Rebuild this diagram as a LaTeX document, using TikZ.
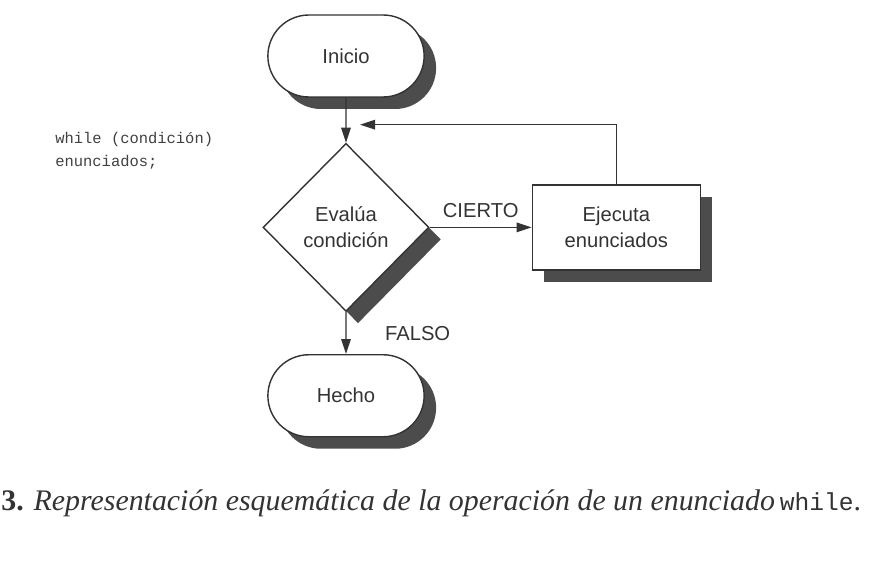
\documentclass[tikz,border=0pt]{standalone}
\usepackage{fontspec}
\setmainfont{Liberation Serif}
\setsansfont{Liberation Sans}
\setmonofont{Liberation Mono}
\usepackage{tikz}
\usetikzlibrary{calc}
\usetikzlibrary{shapes.geometric}
\usetikzlibrary{shapes.misc}
\usetikzlibrary{shadows}
\usetikzlibrary{arrows.meta, positioning}

\tikzset{
	box/.style = {draw=black!80, line width=0.8pt, fill=white, text=black!80,
		font=\sffamily\fontsize{11.5}{15}\selectfont, align=center,
		drop shadow={shadow xshift=0.24cm, shadow yshift=-0.24cm, opacity=1, fill=black!70}},
	terminal/.style = {box, rounded rectangle, minimum width=3.36cm, minimum height=1.64cm},
	decision/.style = {box, diamond, minimum width=3.32cm, minimum height=3.36cm, inner sep=0pt},
	process/.style = {box, rectangle, minimum width=3.36cm, minimum height=1.7cm},
	flow/.style = {draw=black!80, line width=0.8pt, -{Triangle[length=0.3cm, width=0.19cm]}},
	lbl/.style = {text=black!80, font=\sffamily\fontsize{11.5}{15}\selectfont},
	code/.style = {text=black!75, inner sep=0pt, align=left, font=\ttfamily\fontsize{8.8}{13}\selectfont}
}

\begin{document}
\begin{tikzpicture}[x=0.02cm, y=-0.02cm, node distance = .9cm]
		\useasboundingbox (0,0) rectangle (885,578);
		\node[terminal] (inicio) at (346,56) {Inicio};
		\node[decision, below = of inicio] (cond) {Evalúa\\condición};
		\node[process, right = 2.04cm of cond] (ejec) {Ejecuta\\enunciados};
		\node[terminal, below = 0.84cm of cond] (hecho) {Hecho};
		\coordinate[above right = 0.36cm and 0.28cm of cond.north] (back);
		\node[code, anchor=north west] (src) at (55,132) {while (condición)\\enunciados;};

		\draw[flow] (inicio) -- (cond);
		\draw[flow] (cond) -- node[lbl, above = 2pt] {CIERTO} (ejec);
		\draw[flow] (cond) -- node[lbl, right = 0.65cm] {FALSO} (hecho);
		\draw[flow] (ejec) |- (back);

		\node[anchor=base west, inner sep=0pt, text=black!80, font=\fontsize{17}{20}\selectfont] (caption) at (1,510)
			{\textbf{3.} \textit{Representación esquemática de la operación de un enunciado}\,{\ttfamily\fontsize{14}{16}\selectfont while}.};
\end{tikzpicture}
\end{document}
